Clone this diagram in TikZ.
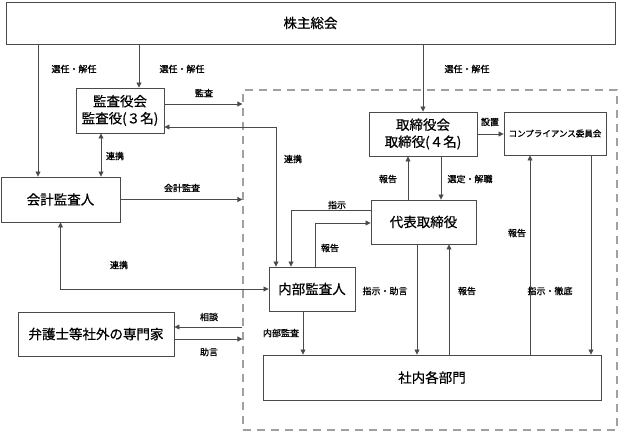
\documentclass[tikz,border=0pt]{standalone}
\usepackage{fontspec}
\setmainfont{Noto Sans CJK JP}
\newfontfamily\lblfont[FakeBold=1.2]{Noto Sans CJK JP}
\newfontfamily\boxfont[FakeBold=0.6]{Noto Sans CJK JP}
\usetikzlibrary{arrows.meta}
\definecolor{lnc}{HTML}{4A4A4A}
\definecolor{dsh}{HTML}{A0A0A0}
\tikzset{
  box/.style={draw=lnc, line width=0.9pt, fill=white, inner sep=0pt, font=\boxfont\fontsize{13.5}{17}\selectfont, align=center},
  lbl/.style={inner sep=0pt, font=\lblfont\fontsize{9}{10}\selectfont},
  conn/.style={draw=lnc, line width=0.8pt},
  arr/.style={conn, -{Triangle[length=5pt,width=5pt]}},
  darr/.style={conn, {Triangle[length=5pt,width=5pt]}-{Triangle[length=5pt,width=5pt]}},
  frame/.style={draw=dsh, line width=1.3pt, dash pattern=on 8pt off 6pt}
}
\begin{document}
\begin{tikzpicture}[x=1pt,y=-1pt]
\useasboundingbox (0,0) rectangle (619,432);
% dashed frame
\node[frame, minimum width=374pt, minimum height=340pt, inner sep=0pt] (fr) at (430,260) {};
% boxes
\node[box, minimum width=609pt, minimum height=42pt] (kabu) at (310.5,23) {株主総会};
\node[box, minimum width=88pt, minimum height=45pt] (kansa) at (120,110.5) {監査役会\\監査役(３名)};
\node[box, minimum width=119pt, minimum height=45pt] (kaikei) at (60.5,199.5) {会計監査人};
\node[box, minimum width=108pt, minimum height=44pt] (tori) at (423,134) {取締役会\\取締役(４名)};
\node[box, minimum width=102pt, minimum height=43pt, font=\lblfont\fontsize{8.5}{10}\selectfont] (comp) at (555,133.5) {コンプライアンス委員会};
\node[box, minimum width=105pt, minimum height=44pt] (dai) at (423.5,222) {代表取締役};
\node[box, minimum width=86pt, minimum height=44pt] (nai) at (312,289) {内部監査人};
\node[box, minimum width=156pt, minimum height=44pt] (ben) at (96,334) {弁護士等社外の専門家};
\node[box, minimum width=338pt, minimum height=45pt] (sha) at (432,377.5) {社内各部門};
% helper coordinates
\coordinate (x38) at (38,0);
\coordinate (x139) at (139,0);
\coordinate (x101) at (101,0);
\coordinate (x276) at (276,0);
\coordinate (x291) at (291,0);
\coordinate (x315) at (315,0);
\coordinate (x303) at (303,0);
\coordinate (x408) at (408,0);
\coordinate (x441) at (441,0);
\coordinate (x417) at (417,0);
\coordinate (x449) at (449,0);
\coordinate (x530) at (530,0);
\coordinate (x591) at (591,0);
\coordinate (y104) at (0,104);
\coordinate (y127) at (0,127);
\coordinate (y210) at (0,210);
\coordinate (y223) at (0,223);
\coordinate (y327) at (0,327);
\coordinate (y339) at (0,339);
% connectors
\draw[arr] (kabu.south -| x38) -- (kaikei.north -| x38);
\draw[arr] (kabu.south -| x139) -- (kansa.north -| x139);
\draw[arr] (kabu.south -| tori.north) -- (tori.north);
\draw[arr] (kansa.east |- y104) -- (fr.west |- y104);
\draw[darr] (nai.north -| x276) -- (x276 |- y127) -- (kansa.east |- y127);
\draw[darr] (kansa.south -| x101) -- (kaikei.north -| x101);
\draw[arr] (kaikei.east) -- (fr.west |- kaikei.east);
\draw[darr] (kaikei.south) -- (kaikei.south |- nai.west) -- (nai.west);
\draw[arr] (fr.west |- y327) -- (ben.east |- y327);
\draw[arr] (ben.east |- y339) -- (fr.west |- y339);
\draw[arr] (tori.east) -- (comp.west |- tori.east);
\draw[arr] (dai.north -| x408) -- (tori.south -| x408);
\draw[arr] (tori.south -| x441) -- (dai.north -| x441);
\draw[arr] (dai.west |- y210) -- (x291 |- y210) -- (nai.north -| x291);
\draw[arr] (nai.north -| x315) -- (x315 |- y223) -- (dai.west |- y223);
\draw[arr] (nai.south -| x303) -- (sha.north -| x303);
\draw[arr] (dai.south -| x417) -- (sha.north -| x417);
\draw[arr] (sha.north -| x449) -- (dai.south -| x449);
\draw[arr] (sha.north -| x530) -- (comp.south -| x530);
\draw[arr] (comp.south -| x591) -- (sha.north -| x591);
% labels
\node[lbl] (l1) at (74,69) {選任・解任};
\node[lbl] (l2) at (182,69) {選任・解任};
\node[lbl] (l3) at (467,69) {選任・解任};
\node[lbl] (l4) at (204,93) {監査};
\node[lbl] (l5) at (293,159) {連携};
\node[lbl] (l6) at (115,156) {連携};
\node[lbl] (l7) at (182,188) {会計監査};
\node[lbl] (l8) at (119,265) {連携};
\node[lbl] (l9) at (209,317) {相談};
\node[lbl] (l10) at (209,352) {助言};
\node[lbl] (l11) at (490,122) {設置};
\node[lbl] (l12) at (388,179) {報告};
\node[lbl] (l13) at (470,179) {選定・解職};
\node[lbl] (l14) at (337,205) {指示};
\node[lbl] (l15) at (330,248) {報告};
\node[lbl] (l16) at (281,333) {内部監査};
\node[lbl] (l17) at (385,291) {指示・助言};
\node[lbl] (l18) at (467,291) {報告};
\node[lbl] (l19) at (517,233) {報告};
\node[lbl] (l20) at (550,291) {指示・徹底};
\end{tikzpicture}
\end{document}
